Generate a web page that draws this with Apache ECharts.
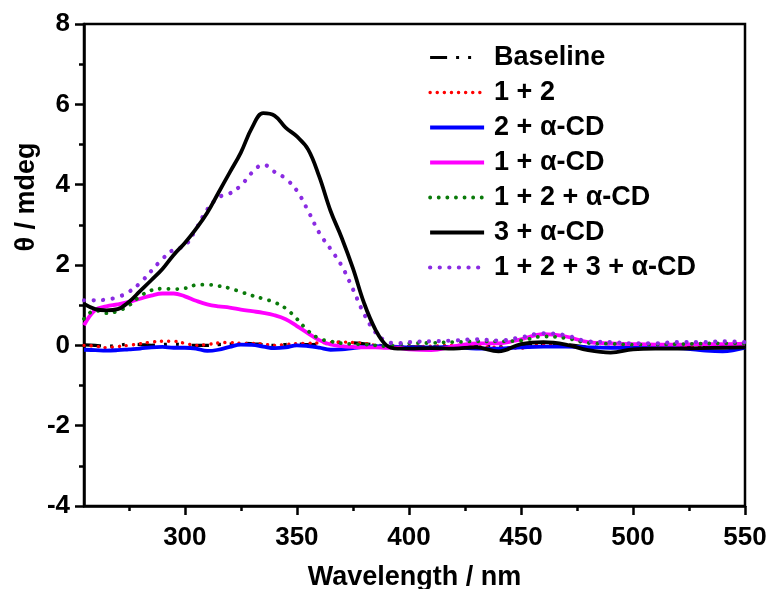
<!DOCTYPE html>
<html>
<head>
<meta charset="utf-8">
<script src="https://cdn.jsdelivr.net/npm/echarts@6/dist/echarts.min.js"></script>
<style>html,body{margin:0;padding:0;background:#fff}#c{width:770px;height:589px}</style>
</head>
<body>
<div id="c"></div>
<script>
const wavelength = [255,260,265,270,275,280,285,290,295,300,305,310,315,320,325,330,335,340,345,350,355,360,365,370,375,380,385,390,395,400,410,420,430,440,450,460,470,480,490,500,510,520,530,540,550];

const baseline = [0.01,0.00,-0.02,0.00,0.03,0.02,0.00,0.02,0.03,0.01,0.00,0.00,0.02,0.03,0.05,0.04,0.02,0.00,0.02,0.03,0.02,0.03,0.05,0.08,0.06,0.04,0.01,-0.02,-0.04,-0.04,-0.04,-0.03,-0.02,-0.04,-0.02,0.05,0.02,-0.04,-0.05,-0.04,-0.03,-0.02,-0.03,-0.02,-0.02];
const s12 = [0.00,-0.02,-0.06,-0.03,0.00,0.04,0.08,0.10,0.10,0.05,0.00,0.02,0.06,0.07,0.05,0.05,0.03,0.00,0.02,0.04,0.05,0.06,0.07,0.08,0.07,0.05,0.00,-0.02,-0.03,-0.03,-0.02,0.00,-0.03,-0.05,-0.07,0.02,0.00,-0.05,-0.05,-0.02,-0.02,-0.02,-0.02,0.00,0.02];
const s2CD = [-0.11,-0.12,-0.13,-0.12,-0.10,-0.08,-0.05,-0.04,-0.06,-0.06,-0.08,-0.14,-0.11,-0.04,0.02,0.01,-0.03,-0.07,-0.05,0.00,-0.02,-0.06,-0.11,-0.10,-0.07,-0.04,-0.02,-0.03,-0.04,-0.05,-0.05,-0.04,-0.08,-0.08,-0.05,-0.03,-0.03,-0.05,-0.06,-0.06,-0.06,-0.07,-0.12,-0.15,-0.06];
const s1CD = [0.50,0.88,0.97,1.02,1.08,1.16,1.24,1.29,1.29,1.22,1.11,1.02,0.97,0.94,0.89,0.85,0.81,0.75,0.65,0.48,0.30,0.13,0.02,-0.02,-0.04,-0.05,-0.05,-0.06,-0.06,-0.10,-0.12,-0.02,0.05,0.05,0.15,0.28,0.22,0.08,0.05,0.03,0.02,0.02,0.03,0.03,0.04];
const s12CD = [0.66,0.87,0.80,0.85,0.99,1.22,1.37,1.41,1.40,1.42,1.50,1.51,1.48,1.42,1.33,1.24,1.16,1.07,0.92,0.66,0.36,0.17,0.10,0.05,0.03,0.02,0.00,-0.02,0.02,0.05,0.06,0.08,0.10,0.10,0.12,0.22,0.18,0.06,0.04,0.02,0.02,0.03,0.04,0.05,0.05];
const s3CD = [1.03,0.90,0.87,0.90,1.08,1.35,1.62,1.90,2.25,2.55,2.90,3.30,3.80,4.30,4.80,5.42,5.78,5.72,5.42,5.20,4.88,4.20,3.35,2.68,1.92,1.05,0.40,0.00,-0.08,-0.08,-0.07,-0.08,-0.05,-0.15,0.03,0.08,0.02,-0.12,-0.18,-0.10,-0.08,-0.08,-0.07,-0.06,-0.05];
const s123CD = [1.12,1.12,1.14,1.20,1.33,1.55,1.85,2.15,2.38,2.48,2.90,3.38,3.68,3.78,3.98,4.30,4.50,4.32,4.15,3.85,3.35,2.80,2.40,1.98,1.40,0.78,0.33,0.10,0.05,0.08,0.10,0.12,0.15,0.12,0.20,0.30,0.25,0.10,0.08,0.05,0.05,0.08,0.08,0.10,0.08];

const seriesNames = ['Baseline','1 + 2','2 + \u03b1-CD','1 + \u03b1-CD','1 + 2 + \u03b1-CD','3 + \u03b1-CD','1 + 2 + 3 + \u03b1-CD'];
const xMajorTicks = [300,350,400,450,500,550];
const xMinorTicks = [275,325,375,425,475,525];

const pair = arr => wavelength.map((w,i)=>[w,arr[i]]);
const FONT = 'Liberation Sans';
const lbl = {fontFamily:FONT, fontWeight:'bold', fontSize:26, color:'#000'};

const styles = [
  {color:'#000000', width:3.2, type:[17,9,3,9,3,13], cap:'butt'},
  {color:'#ff0000', width:3.4, type:[0.1,7], cap:'round'},
  {color:'#0000ff', width:3.8, type:'solid', cap:'butt'},
  {color:'#ff00ff', width:3.8, type:'solid', cap:'butt'},
  {color:'#0a7a0a', width:3.8, type:[0.1,8.5], cap:'round'},
  {color:'#000000', width:3.8, type:'solid', cap:'butt'},
  {color:'#8a2be2', width:4.2, type:[0.1,9.5], cap:'round'}
];
const datas = [baseline, s12, s2CD, s1CD, s12CD, s3CD, s123CD];
const z = [2,2,3,3,3,5,4];

const chart = echarts.init(document.getElementById('c'), null, {renderer:'canvas'});
chart.setOption({
  animation:false,
  backgroundColor:'#fff',
  grid:{left:84, right:25, top:24, bottom:83, show:true, borderColor:'#000', borderWidth:2.5, backgroundColor:'transparent', outerBoundsMode:'none', containLabel:false},
  legend:{
    left:428, top:44, padding:0, orient:'vertical', itemWidth:54, itemHeight:14, itemGap:8,
    data:seriesNames.map((n,i)=>({name:n, lineStyle:{width:styles[i].width, type:styles[i].type, cap:styles[i].cap, color:styles[i].color}})),
    itemStyle:{opacity:0},
    textStyle:{fontFamily:FONT, fontWeight:'bold', fontSize:27, color:'#000', lineHeight:27, padding:[0,0,0,5]}
  },
  xAxis:[{
    type:'value', min:255, max:550,
    axisLine:{onZero:false, lineStyle:{color:'#000', width:2.5}},
    axisTick:{show:true, inside:false, length:9, lineStyle:{color:'#000', width:2.5}, customValues:xMajorTicks},
    axisLabel:{...lbl, margin:19, customValues:xMajorTicks},
    splitLine:{show:false},
    name:'Wavelength / nm', nameLocation:'middle', nameGap:58,
    nameTextStyle:{fontFamily:FONT, fontWeight:'bold', fontSize:27, color:'#000'}
  },{
    type:'value', min:255, max:550, position:'bottom', offset:0,
    axisLine:{show:false, onZero:false},
    axisTick:{show:true, inside:false, length:5, lineStyle:{color:'#000', width:2.5}, customValues:xMinorTicks},
    axisLabel:{show:false}, splitLine:{show:false}
  }],
  yAxis:{
    type:'value', min:-4, max:8, interval:2,
    axisLine:{onZero:false, lineStyle:{color:'#000', width:2.5}},
    axisTick:{show:true, inside:false, length:9, lineStyle:{color:'#000', width:2.5}},
    minorTick:{show:true, splitNumber:2, length:5, lineStyle:{color:'#000', width:2.5}},
    axisLabel:{...lbl, margin:14},
    splitLine:{show:false}, minorSplitLine:{show:false}
  },
  graphic:[{
    type:'text', x:27, y:197, rotation:Math.PI/2,
    style:{text:'\u03b8 / mdeg', fontFamily:FONT, fontWeight:'bold', fontSize:27, fill:'#000', align:'center', verticalAlign:'middle'}
  }],
  series: datas.map((d,i)=>({
    name:seriesNames[i], type:'line', xAxisIndex:0, data:pair(d), smooth:0.4, symbol:'none', z:z[i],
    lineStyle:{color:styles[i].color, width:styles[i].width, type:styles[i].type, cap:styles[i].cap},
    itemStyle:{color:styles[i].color}
  }))
});
</script>
</body>
</html>
